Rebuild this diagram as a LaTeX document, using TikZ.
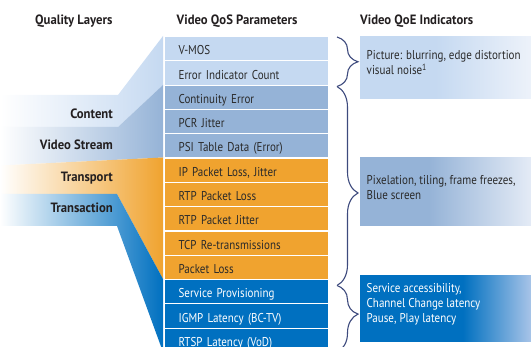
\documentclass[tikz,border=0pt]{standalone}
\usepackage{fontspec}
\usetikzlibrary{decorations.pathreplacing}

\newfontfamily\qfont{PT Sans}[FakeStretch=0.86]
\newfontfamily\qbfont{PT Sans}[FakeStretch=0.94]
\newcommand\rowfont{\qfont\fontsize{12.8}{15}\selectfont}
\newcommand\headfont{\qbfont\bfseries\fontsize{13.5}{15}\selectfont}

\definecolor{qlight}{HTML}{C5D9F1}
\definecolor{qmid}{HTML}{95B3D7}
\definecolor{qorange}{HTML}{F0A32F}
\definecolor{qdark}{HTML}{0070C0}
\definecolor{qtext}{HTML}{2A2A2A}
\definecolor{qhead}{HTML}{231F20}
\definecolor{qbrace}{HTML}{3D4A7D}
\definecolor{qlightend}{HTML}{EDF2FA}
\definecolor{qmidend}{HTML}{E4EBF6}
\definecolor{qdarkend}{HTML}{A8C4E8}

% indicator boxes: solid colour on the left, fading towards the right edge
\pgfdeclarehorizontalshading{qoeA}{100bp}{color(0bp)=(qlight); color(47bp)=(qlight); color(75bp)=(qlightend); color(100bp)=(qlightend)}
\pgfdeclarehorizontalshading{qoeB}{100bp}{color(0bp)=(qmid); color(45bp)=(qmid); color(75bp)=(qmidend); color(100bp)=(qmidend)}
\pgfdeclarehorizontalshading{qoeC}{100bp}{color(0bp)=(qdark); color(55bp)=(qdark); color(75bp)=(qdarkend); color(100bp)=(qdarkend)}

\tikzset{
  qrow/.style={rectangle, draw=white, line width=1.2pt, minimum width=164pt,
    minimum height=24.3pt, text width=136pt, inner xsep=14pt, inner ysep=0pt,
    text height=12pt, text depth=0pt, align=left, anchor=north west,
    font=\rowfont, text=qtext},
  qhdr/.style={font=\headfont, text=qhead, inner sep=0pt},
  qlayer/.style={font=\headfont, text=qhead, inner sep=0pt, anchor=base east},
  qoebox/.style={rectangle, draw=none, inner sep=0pt, anchor=north west, minimum width=171pt},
  qoetxt/.style={font=\rowfont, text=qtext, inner sep=0pt, anchor=base west},
  qbr/.style={draw=qbrace, line width=1.1pt, decorate},
}

\begin{document}
\begin{tikzpicture}[x=1pt,y=-1pt]
\useasboundingbox (0,0) rectangle (531,347);
\clip (0,0) rectangle (531,347);

% column headings
\node[qhdr, anchor=base west] (hlayers) at (35,25) {Quality Layers};
\node[qhdr, anchor=base west] (hqos) at (176.5,25) {Video QoS Parameters};
\node[qhdr, anchor=base west] (hqoe) at (360,25) {Video QoE Indicators};

% layer funnel
\shade[left color=white, right color=qlight]
  (0,95) -- (118,95) -- (163,36) -- (163,85) -- (118,127) -- (0,127) -- cycle;
\shade[left color=white, right color=qmid]
  (0,127) -- (118,127) -- (163,85) -- (163,157.5) -- (0,165.5) -- cycle;
\shade[left color=white, middle color=qorange!62, right color=qorange]
  (0,165.5) -- (163,157.5) -- (163,279) -- (117,194) -- (0,194) -- cycle;
\shade[left color=white, middle color=qdark!48, right color=qdark]
  (0,194) -- (117,194) -- (163,279) -- (163,352) -- (117,226) -- (0,226) -- cycle;

\node[qlayer] (lcontent) at (113,118.3) {Content};
\node[qlayer] (lstream) at (113,150) {Video Stream};
\node[qlayer] (ltransport) at (113,181.5) {Transport};
\node[qlayer] (ltransaction) at (113,213) {Transaction};

% QoS parameter rows
\node[qrow, fill=qlight] (r1) at (164,36) {V-MOS};
\node[qrow, fill=qlight] (r2) at (164,60.3) {Error Indicator Count};
\node[qrow, fill=qmid] (r3) at (164,84.6) {Continuity Error};
\node[qrow, fill=qmid] (r4) at (164,108.9) {PCR Jitter};
\node[qrow, fill=qmid] (r5) at (164,133.2) {PSI Table Data (Error)};
\node[qrow, fill=qorange] (r6) at (164,157.5) {IP Packet Loss, Jitter};
\node[qrow, fill=qorange] (r7) at (164,181.8) {RTP Packet Loss};
\node[qrow, fill=qorange] (r8) at (164,206.1) {RTP Packet Jitter};
\node[qrow, fill=qorange] (r9) at (164,230.4) {TCP Re-transmissions};
\node[qrow, fill=qorange] (r10) at (164,254.7) {Packet Loss};
\node[qrow, fill=qdark, text=white] (r11) at (164,279.0) {Service Provisioning};
\node[qrow, fill=qdark, text=white] (r12) at (164,303.3) {IGMP Latency (BC-TV)};
\node[qrow, fill=qdark, text=white, text height=11.6pt] (r13) at (164,327.6) {RTSP Latency (VoD)};

% braces grouping the parameters
\coordinate (b0) at (337,37);
\coordinate (b1) at (337,86.5);
\coordinate (b2) at (337,285.5);
\coordinate (b3) at (337,352);
\draw[qbr, decoration={brace, amplitude=21pt, aspect=0.5}] (b0) -- (b1);
\draw[qbr, decoration={brace, amplitude=21pt, aspect=0.535}] (b1) -- (b2);
\draw[qbr, decoration={brace, amplitude=21pt, aspect=0.43}] (b2) -- (b3);

% QoE indicator boxes
\node[qoebox, shading=qoeA, minimum height=62pt] (q1) at (360,36) {};
\node[qoebox, shading=qoeB, minimum height=68pt] (q2) at (360,157) {};
\node[qoebox, shading=qoeC, minimum height=66pt] (q3) at (360,275) {};

\node[qoetxt] (t1a) at (366.5,59.5) {Picture: blurring, edge distortion};
\node[qoetxt] (t1b) at (366.5,74.5) {visual noise\textsuperscript{1}};
\node[qoetxt] (t2a) at (366.5,185) {Pixelation, tiling, frame freezes,};
\node[qoetxt] (t2b) at (366.5,200) {Blue screen};
\node[qoetxt, text=white] (t3a) at (366.5,293) {Service accessibility,};
\node[qoetxt, text=white] (t3b) at (366.5,308) {Channel Change latency};
\node[qoetxt, text=white] (t3c) at (366.5,323) {Pause, Play latency};
\end{tikzpicture}
\end{document}
